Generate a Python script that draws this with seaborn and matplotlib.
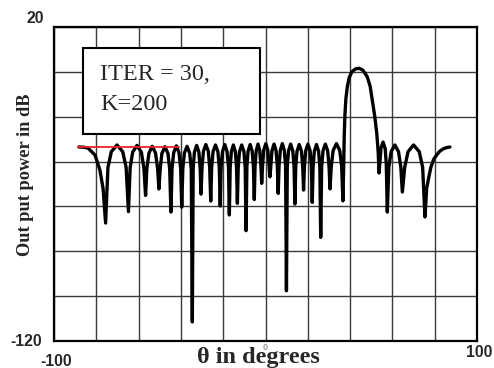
import matplotlib
matplotlib.use("Agg")
import matplotlib.pyplot as plt
from matplotlib.patches import Rectangle
import seaborn as sns
import pandas as pd

# ---- pattern (theta in degrees, output power in dB) ----
theta = [
    -88.2, -86.0, -83.9, -80.6, -78.3, -76.8,
    -75.6, -74.5, -72.9, -70.2, -67.5, -65.9,
    -64.8, -64.0, -62.8, -60.75, -58.7, -57.5,
    -56.7, -56.1, -55.1, -53.55, -52.0, -51.0,
    -50.4, -49.8, -49.0, -47.55, -46.1, -45.3,
    -44.7, -44.2, -43.4, -42.15, -40.9, -40.1,
    -39.6, -39.1, -38.35, -37.1, -35.85, -35.1,
    -34.6, -34.2, -33.6, -32.55, -31.5, -30.9,
    -30.5, -30.0, -29.35, -28.2, -27.05, -26.4,
    -25.9, -25.45, -24.8, -23.65, -22.5, -21.85,
    -21.4, -21.0, -20.3, -19.25, -18.2, -17.5,
    -17.1, -16.7, -16.15, -15.2, -14.25, -13.7,
    -13.3, -12.9, -12.3, -11.25, -10.2, -9.6,
    -9.2, -8.8, -8.25, -7.25, -6.3, -5.7,
    -5.3, -4.95, -4.4, -3.55, -2.7, -2.15,
    -1.8, -1.4, -0.85, 0.15, 1.1, 1.7,
    2.1, 2.5, 3.05, 4.05, 5.0, 5.6,
    6.0, 6.4, 7.0, 7.95, 8.9, 9.5,
    9.9, 10.3, 10.9, 11.9, 12.9, 13.5,
    13.9, 14.3, 14.9, 15.95, 17.0, 17.6,
    18.0, 18.4, 19.0, 20.05, 21.1, 21.7,
    22.1, 22.5, 23.1, 24.1, 25.1, 25.7,
    26.1, 26.55, 27.2, 28.3, 29.4, 30.05,
    30.5, 31.1, 32.0, 33.55, 35.1, 36.0,
    36.6, 36.9, 37.2, 37.5, 38.0, 38.7, 39.6, 40.9, 42.5, 44.2,
    46.0, 48.1, 49.5, 50.5, 51.6, 52.6, 53.3,
    53.7, 54.1, 54.6, 55.6, 56.6, 57.1,
    57.6, 58.3, 59.4, 61.15, 62.9, 64.0,
    64.7, 65.8, 67.4, 70.0, 72.7, 74.3,
    75.4, 76.2, 77.2, 78.2, 79.5, 80.9, 82.4, 83.9, 85.5, 87.2,
]
power_db = [
    -33.5, -33.6, -34.0, -37.1, -43.8, -52.0,
    -67.4, -42.6, -35.6, -32.6, -35.6, -42.6,
    -62.3, -42.8, -35.8, -32.8, -35.8, -42.8,
    -55.1, -43.2, -36.2, -33.2, -36.2, -43.2,
    -52.2, -43.4, -36.4, -33.4, -36.4, -43.4,
    -62.5, -43.0, -36.0, -33.0, -36.0, -43.0,
    -60.3, -43.2, -36.2, -33.2, -36.2, -43.2,
    -111.5, -42.8, -35.8, -32.8, -35.8, -42.8,
    -54.5, -42.4, -35.4, -32.4, -35.4, -42.4,
    -57.6, -42.6, -35.6, -32.6, -35.6, -42.6,
    -59.8, -42.4, -35.4, -32.4, -35.4, -42.4,
    -63.8, -42.6, -35.6, -32.6, -35.6, -42.6,
    -58.6, -42.6, -35.6, -32.6, -35.6, -42.6,
    -70.8, -42.4, -35.4, -32.4, -35.4, -42.4,
    -56.9, -42.2, -35.2, -32.2, -35.2, -42.2,
    -49.7, -42.0, -35.0, -32.0, -35.0, -42.0,
    -46.8, -42.2, -35.2, -32.2, -35.2, -42.2,
    -54.2, -42.0, -35.0, -32.0, -35.0, -42.0,
    -97.6, -42.2, -35.2, -32.2, -35.2, -42.2,
    -58.9, -42.4, -35.4, -32.4, -35.4, -42.4,
    -52.7, -42.2, -35.2, -32.2, -35.2, -42.2,
    -58.2, -42.4, -35.4, -32.4, -35.4, -42.4,
    -73.8, -42.2, -35.2, -32.2, -35.2, -42.2,
    -52.2, -42.0, -35.0, -32.0, -35.0, -42.0,
    -57.5, -45.0, -30.0, -20.1, -12.0, -6.6, -2.5, 0.1, 1.3, 1.6,
    0.8, -2.2, -6.5, -12.6, -19.5, -27.3, -36.0,
    -45.1, -40.0, -34.0, -31.3, -34.3, -41.0,
    -62.5, -42.6, -35.6, -32.6, -35.6, -42.6,
    -53.6, -42.6, -35.6, -32.6, -35.6, -42.6,
    -64.7, -52.0, -47.0, -42.5, -39.0, -37.1, -35.4, -34.4, -33.8, -33.5,
]
ref_theta = [-88.6, -41.0]
ref_db = [-33.4, -33.4]

x_ticks = list(range(-100, 101, 20))
y_ticks = list(range(-120, 21, 20))
legend_lines = ["ITER = 30,", "K=200"]

W, H = 494, 368
sns.set_theme(style="white")
fig = plt.figure(figsize=(W / 100, H / 100), dpi=100)
ax = fig.add_axes([54 / W, 1 - 341 / H, 423 / W, 314 / H])

df = pd.DataFrame({"theta": theta, "db": power_db})
sns.lineplot(data=df, x="theta", y="db", sort=False, estimator=None,
             color="black", lw=2.4, ax=ax, zorder=4,
             solid_joinstyle="round", solid_capstyle="round")
sns.lineplot(x=ref_theta, y=ref_db, sort=False, estimator=None,
             color="#e8242a", lw=1.3, ax=ax, zorder=5)

ax.set_xlim(-100, 100)
ax.set_ylim(-120, 20)
ax.set_xticks(x_ticks)
ax.set_yticks(y_ticks)
ax.set_xticklabels([])
ax.set_yticklabels([])
ax.tick_params(length=0)
ax.grid(True, color="#3a3a3a", lw=1.0)
ax.set_axisbelow(True)
ax.set_xlabel("")
ax.set_ylabel("")
for s in ax.spines.values():
    s.set_color("black")
    s.set_linewidth(1.6)

# text box
ax.add_patch(Rectangle((-86.3, -27.7), 83.7, 38.3, facecolor="white",
                       edgecolor="black", lw=1.5, zorder=3))
ax.text(-78.3, -3.6, legend_lines[0], family="Liberation Serif", fontsize=17.5,
        va="baseline", ha="left", zorder=6)
ax.text(-78.3, -17.0, legend_lines[1], family="Liberation Serif", fontsize=17.5,
        va="baseline", ha="left", zorder=6)

def ftext(px, py, s, **kw):
    fig.text(px / W, 1 - py / H, s, **kw)

tick_kw = dict(family="Liberation Sans", fontweight="bold", fontsize=11.3,
               va="center")
ftext(35, 18.7, "20", ha="center", **tick_kw)
ftext(26.5, 341.7, "-120", ha="center", **tick_kw)
ftext(56.5, 361.5, "-100", ha="center", **tick_kw)
ftext(479, 352.5, "100", ha="center", **tick_kw)
ftext(265.5, 347.5, "0", ha="center", family="Liberation Sans",
      fontweight="bold", fontsize=6.5, color="#9a9a9a", va="center")

ftext(258.5, 363.5, "θ in degrees", ha="center", va="baseline",
      family="Liberation Serif", fontweight="bold", fontsize=17.5)
ftext(25, 175, "Out put power in dB", ha="center", va="center", rotation=90,
      family="Liberation Serif", fontweight="bold", fontsize=13.2)

fig.savefig("out.png", dpi=100)
